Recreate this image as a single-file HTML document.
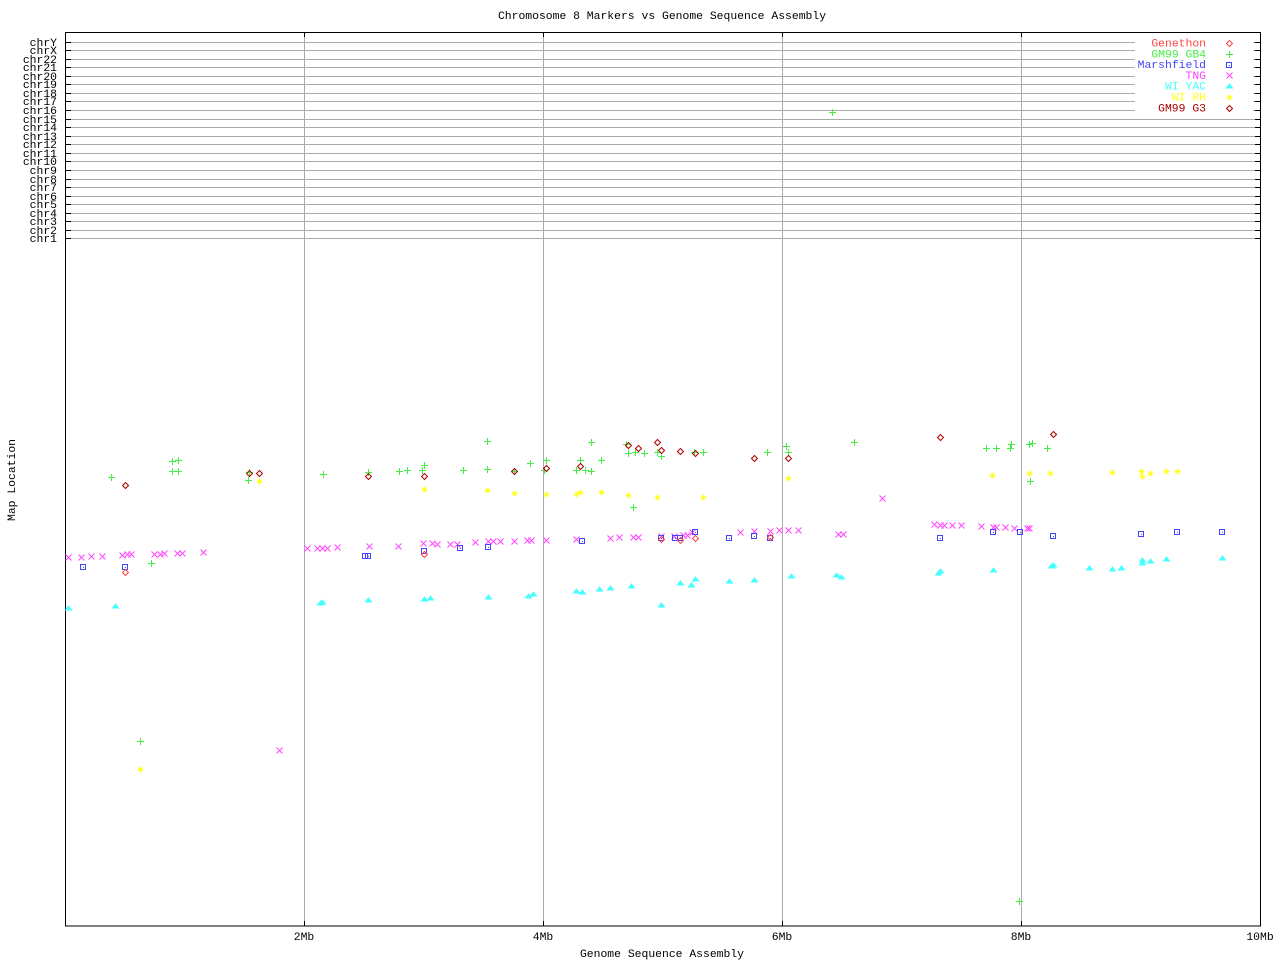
<!DOCTYPE html>
<html><head><meta charset="utf-8"><style>
body{margin:0;background:#fff}
svg{display:block}
text{font-family:"Liberation Mono","DejaVu Sans Mono",monospace;font-size:11.4px}
</style></head><body>
<svg id="s" width="1280" height="960" xmlns="http://www.w3.org/2000/svg" shape-rendering="crispEdges">
<rect width="1280" height="960" fill="#fff"/>
<text x="662" y="19" text-anchor="middle">Chromosome 8 Markers vs Genome Sequence Assembly</text>
<text x="662" y="957" text-anchor="middle">Genome Sequence Assembly</text>
<text transform="translate(15,480) rotate(-90)" text-anchor="middle">Map Location</text>
<g id="grid" stroke="#aaa" stroke-width="1"></g>
<g id="ax"></g>
<rect x="65.5" y="32.5" width="1195" height="893.5" fill="none" stroke="#000"/>
<g id="pts"></g>
<g id="leg"></g>
</svg>
<script>
var NS="http://www.w3.org/2000/svg",s=document.getElementById('s');
function el(t,a,p){var e=document.createElementNS(NS,t);for(var k in a)e.setAttribute(k,a[k]);(p||s).appendChild(e);return e;}
var grid=document.getElementById('grid'),ax=document.getElementById('ax');
var chr=["chrY","chrX","chr22","chr21","chr20","chr19","chr18","chr17","chr16","chr15","chr14","chr13","chr12","chr11","chr10","chr9","chr8","chr7","chr6","chr5","chr4","chr3","chr2","chr1"];
chr.forEach(function(c,i){var y=Math.round(41.5+i*8.565)+0.5;
el('line',{x1:66,x2:1260,y1:y,y2:y},grid);
el('line',{x1:66,x2:71,y1:y,y2:y,stroke:'#000'},ax);
el('line',{x1:1255,x2:1260,y1:y,y2:y,stroke:'#000'},ax);
var t=el('text',{x:57,y:y+3.5,'text-anchor':'end'},ax);t.textContent=c;});
[304,543,782,1021].forEach(function(x,i){el('line',{x1:x+.5,x2:x+.5,y1:33,y2:926},grid);
el('line',{x1:x+.5,x2:x+.5,y1:33,y2:37,stroke:'#000'},ax);el('line',{x1:x+.5,x2:x+.5,y1:921,y2:926,stroke:'#000'},ax);
var t=el('text',{x:x,y:940,'text-anchor':'middle'},ax);t.textContent=(2*(i+1))+"Mb";});
var t=el('text',{x:1260,y:940,'text-anchor':'middle'},ax);t.textContent="10Mb";
var g=document.getElementById('pts');
function mk(type,x,y,c,p){p=p||g;
 if(type=='+'){el('path',{d:'M'+(x-3)+' '+(y+.5)+'h7M'+(x+.5)+' '+(y-3)+'v7',stroke:c,fill:'none'},p);}
 else if(type=='x'){el('path',{d:'M'+(x-2.5)+' '+(y-2.5)+'l6 6M'+(x+3.5)+' '+(y-2.5)+'l-6 6',stroke:c,fill:'none','shape-rendering':'auto'},p);}
 else if(type=='sq'){el('rect',{x:x-2.5,y:y-2.5,width:5,height:5,fill:'none',stroke:c},p);el('rect',{x:x,y:y,width:1,height:1,fill:c},p);}
 else if(type=='d'){el('path',{d:'M'+(x+.5)+' '+(y-2.5)+'l3 3l-3 3l-3 -3z',fill:'none',stroke:c,'shape-rendering':'auto'},p);}
 else if(type=='tri'){el('path',{d:'M'+(x+.5)+' '+(y-2)+'l3 4h-6z',fill:c,stroke:c,'shape-rendering':'auto'},p);}
 else if(type=='ast'){el('path',{d:'M'+(x-2.5)+' '+(y+.5)+'h6M'+(x+.5)+' '+(y-2.5)+'v6M'+(x-1.5)+' '+(y-1.5)+'l4 4M'+(x+2.5)+' '+(y-1.5)+'l-4 4',stroke:c,fill:'none','shape-rendering':'auto'},p);}
}
var G='#44ee44',DR='#aa0000',R='#ff4444',Y='#ffff22',M='#ff44ff',B='#4444ff',C='#44ffff';
var d={
'+':[G,[[111,477],[172,461],[178,460],[172,471],[178,471],[248,480],[249,472],[151,563],[323,474],[368,472],[399,471],[407,470],[422,470],[424,465],[463,470],[487,441],[487,469],[514,471],[530,463],[546,460],[544,470],[591,442],[580,460],[576,470],[585,470],[591,471],[601,460],[626,444],[628,453],[635,452],[644,453],[657,452],[661,456],[694,452],[703,452],[767,452],[786,446],[788,452],[854,442],[633,507],[986,448],[996,448],[1010,448],[1011,444],[1029,444],[1032,443],[1047,448],[1030,481],[832,112],[140,741],[1019,901]]],
'x':[M,[[68,557],[81,557],[91,556],[102,556],[122,555],[127,554],[131,554],[154,554],[160,554],[164,553],[177,553],[182,553],[203,552],[307,548],[317,548],[322,548],[327,548],[337,547],[369,546],[398,546],[423,543],[432,543],[437,544],[450,544],[457,544],[475,542],[488,541],[493,541],[500,541],[514,541],[527,540],[531,540],[546,540],[576,539],[610,538],[619,537],[633,537],[638,537],[661,536],[674,536],[683,535],[687,535],[692,532],[740,532],[754,531],[770,531],[779,530],[788,530],[798,530],[838,534],[843,534],[882,498],[934,524],[940,525],[944,525],[952,525],[961,525],[981,526],[993,527],[996,527],[1005,527],[1014,528],[1027,528],[1029,528],[279,750]]],
'sq':[B,[[83,567],[125,567],[365,556],[368,556],[424,551],[460,548],[488,547],[582,541],[661,538],[675,538],[680,538],[695,532],[729,538],[754,536],[770,538],[940,538],[993,532],[1020,532],[1053,536],[1141,534],[1177,532],[1222,532]]],
'd':[R,[[125,572],[424,554],[661,539],[680,540],[695,538],[770,537]]],
'dr':[DR,[[125,485],[249,473],[259,473],[368,476],[424,476],[514,471],[546,468],[580,466],[628,445],[638,448],[657,442],[661,450],[680,451],[695,453],[754,458],[788,458],[940,437],[1053,434]]],
'ast':[Y,[[259,481],[424,489],[487,490],[514,493],[546,494],[576,494],[580,492],[601,492],[628,495],[657,497],[703,497],[788,478],[992,475],[1029,473],[1050,473],[1112,472],[1141,471],[1142,476],[1150,473],[1166,471],[1177,471],[140,769]]],
'tri':[C,[[68,608],[115,606],[320,603],[322,602],[368,600],[424,599],[430,598],[488,597],[528,596],[533,594],[576,591],[582,592],[599,589],[610,588],[631,586],[661,605],[680,583],[691,585],[695,579],[729,581],[754,580],[791,576],[836,575],[841,577],[938,573],[940,571],[993,570],[1051,566],[1053,565],[1089,568],[1112,569],[1121,568],[1142,560],[1142,563],[1150,561],[1166,559],[1222,558]]]
};
for(var k in d){var c=d[k][0];d[k][1].forEach(function(p){mk(k=='dr'?'d':k,p[0],p[1],c);});}
var lg=document.getElementById('leg');
var L=[["Genethon",R,'d'],["GM99 GB4",G,'+'],["Marshfield",B,'sq'],["TNG",M,'x'],["WI YAC",C,'tri'],["WI RH",Y,'ast'],["GM99 G3",DR,'d']];
el('rect',{x:1135,y:36,width:118,height:78,fill:'#fff'},lg);
L.forEach(function(l,i){var y=43+i*10.8;var t=el('text',{x:1206,y:y+3.5,'text-anchor':'end',fill:l[1]},lg);t.textContent=l[0];mk(l[2],1229,Math.round(y),l[1],lg);});
</script>
</body></html>
